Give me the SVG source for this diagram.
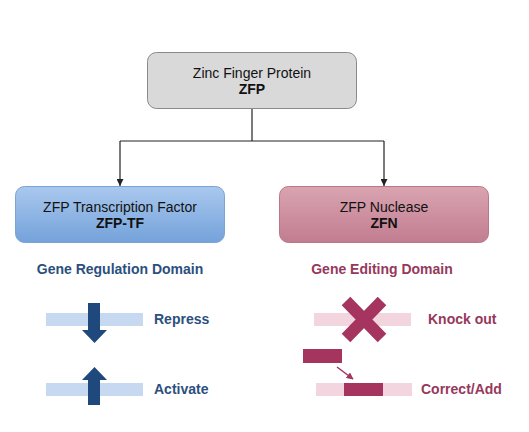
<svg xmlns="http://www.w3.org/2000/svg" width="529" height="432" viewBox="0 0 529 432">
<defs>
<linearGradient id="gBlue" x1="0" y1="0" x2="0" y2="1">
<stop offset="0" stop-color="#a9c8ee"/>
<stop offset="1" stop-color="#74a2da"/>
</linearGradient>
<linearGradient id="gPink" x1="0" y1="0" x2="0" y2="1">
<stop offset="0" stop-color="#d9a4b1"/>
<stop offset="1" stop-color="#c27d90"/>
</linearGradient>
<marker id="arr" viewBox="0 0 10 10" refX="10" refY="5" markerWidth="7" markerHeight="7" orient="auto" markerUnits="userSpaceOnUse">
<path d="M0,0 L10,5 L0,10 z" fill="#222"/>
</marker>
<marker id="arrM" viewBox="0 0 10 10" refX="9" refY="5" markerWidth="7" markerHeight="7" orient="auto" markerUnits="userSpaceOnUse">
<path d="M0,0 L10,5 L0,10 z" fill="#a5355f"/>
</marker>
</defs>
<style>
text{font-family:"Liberation Sans",Arial,sans-serif;font-size:14px;text-anchor:middle;fill:#111}
.b{font-weight:bold}
.blue{fill:#2b4f7e;font-weight:bold}
.red{fill:#96385c;font-weight:bold}
.lbl{text-anchor:start}
.conn{fill:none;stroke:#222;stroke-width:1.2}
</style>
<rect width="529" height="432" fill="#fff"/>
<g id="connectors">
<path class="conn" d="M252,109 V141"/>
<path class="conn" d="M120,141 H384"/>
<path class="conn" d="M120,141 V186" marker-end="url(#arr)"/>
<path class="conn" d="M384,141 V186" marker-end="url(#arr)"/>
</g>
<g id="zfp">
<rect x="147.5" y="52.5" width="209" height="56" rx="9" fill="#d9d9d9" stroke="#8a8a8a"/>
<text x="252" y="78">Zinc Finger Protein</text>
<text x="252" y="94" class="b">ZFP</text>
</g>
<g id="zfp-tf">
<rect x="15.5" y="186.5" width="209" height="56" rx="9" fill="url(#gBlue)" stroke="#7aa3d6"/>
<text x="120" y="212">ZFP Transcription Factor</text>
<text x="120" y="228" class="b">ZFP-TF</text>
</g>
<g id="zfn">
<rect x="279.5" y="186.5" width="209" height="56" rx="9" fill="url(#gPink)" stroke="#b8788a"/>
<text x="384" y="212">ZFP Nuclease</text>
<text x="384" y="228" class="b">ZFN</text>
</g>
<g id="regulation">
<text x="120" y="274" class="blue">Gene Regulation Domain</text>
<rect x="46" y="313" width="97" height="13" fill="#c6d9f0"/>
<path d="M88,303 H100 V330 H107 L94.5,343 L82,330 H88 Z" fill="#1f497d"/>
<text x="154" y="324" class="blue lbl">Repress</text>
<rect x="46" y="383" width="97" height="13" fill="#c6d9f0"/>
<path d="M88,405 H100 V380 H107 L94.5,367 L82,380 H88 Z" fill="#1f497d"/>
<text x="154" y="394" class="blue lbl">Activate</text>
</g>
<g id="editing">
<text x="382" y="274" class="red">Gene Editing Domain</text>
<rect x="314" y="313" width="97" height="13" fill="#f2d5df"/>
<path d="M346,301 L382,338 M382,301 L346,338" stroke="#a5355f" stroke-width="12" fill="none"/>
<text x="428" y="324" class="red lbl">Knock out</text>
<rect x="303" y="349" width="39" height="14" fill="#a5355f"/>
<path d="M337,367 L353,379" stroke="#a5355f" stroke-width="1.5" fill="none" marker-end="url(#arrM)"/>
<rect x="316" y="383" width="96" height="13" fill="#f2d5df"/>
<rect x="344" y="383" width="39" height="13" fill="#a5355f"/>
<text x="421" y="394" class="red lbl">Correct/Add</text>
</g>
</svg>
